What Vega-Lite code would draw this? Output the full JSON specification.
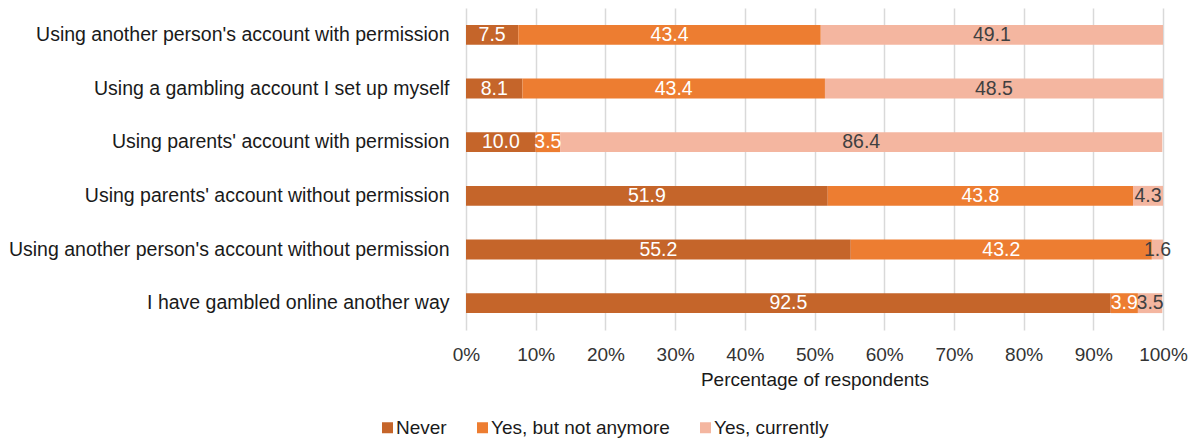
{
  "$schema": "https://vega.github.io/schema/vega-lite/v6.json",
  "autosize": "none",
  "width": 697,
  "height": 322,
  "padding": {"left": 466, "top": 8, "right": 33, "bottom": 108},
  "background": "white",
  "config": {
    "font": "Liberation Sans",
    "view": {"stroke": null}
  },
  "data": {
    "values": [
      {"item": "Using another person's account with permission", "response": "Never", "pct": 7.5},
      {"item": "Using another person's account with permission", "response": "Yes, but not anymore", "pct": 43.4},
      {"item": "Using another person's account with permission", "response": "Yes, currently", "pct": 49.1},
      {"item": "Using a gambling account I set up myself", "response": "Never", "pct": 8.1},
      {"item": "Using a gambling account I set up myself", "response": "Yes, but not anymore", "pct": 43.4},
      {"item": "Using a gambling account I set up myself", "response": "Yes, currently", "pct": 48.5},
      {"item": "Using parents' account with permission", "response": "Never", "pct": 10.0},
      {"item": "Using parents' account with permission", "response": "Yes, but not anymore", "pct": 3.5},
      {"item": "Using parents' account with permission", "response": "Yes, currently", "pct": 86.4},
      {"item": "Using parents' account without permission", "response": "Never", "pct": 51.9},
      {"item": "Using parents' account without permission", "response": "Yes, but not anymore", "pct": 43.8},
      {"item": "Using parents' account without permission", "response": "Yes, currently", "pct": 4.3},
      {"item": "Using another person's account without permission", "response": "Never", "pct": 55.2},
      {"item": "Using another person's account without permission", "response": "Yes, but not anymore", "pct": 43.2},
      {"item": "Using another person's account without permission", "response": "Yes, currently", "pct": 1.6},
      {"item": "I have gambled online another way", "response": "Never", "pct": 92.5},
      {"item": "I have gambled online another way", "response": "Yes, but not anymore", "pct": 3.9},
      {"item": "I have gambled online another way", "response": "Yes, currently", "pct": 3.5}
    ]
  },
  "transform": [
    {"stack": "pct", "groupby": ["item"], "sort": [{"field": "response", "order": "ascending"}], "as": ["x0", "x1"]},
    {"calculate": "(datum.x0 + datum.x1) / 2", "as": "xmid"}
  ],
  "encoding": {
    "y": {
      "field": "item",
      "type": "nominal",
      "sort": null,
      "scale": {"paddingInner": 0.63, "paddingOuter": 0.315},
      "axis": {
        "title": null,
        "domain": false,
        "ticks": false,
        "labelFont": "Liberation Sans",
        "labelFontSize": 19.5,
        "labelColor": "#1a1a1a",
        "labelPadding": 17,
        "labelLimit": 600
      }
    }
  },
  "layer": [
    {
      "mark": {"type": "bar"},
      "encoding": {
        "x": {
          "field": "x0",
          "type": "quantitative",
          "scale": {"domain": [0, 100], "nice": false},
          "axis": {
            "values": [0, 10, 20, 30, 40, 50, 60, 70, 80, 90, 100],
            "labelExpr": "datum.value + '%'",
            "labelFlush": false,
            "labelOverlap": false,
            "title": "Percentage of respondents",
            "titleFont": "Liberation Sans",
            "titleFontSize": 19,
            "titleFontWeight": "normal",
            "titleColor": "#1a1a1a",
            "titlePadding": 6,
            "labelFont": "Liberation Sans",
            "labelFontSize": 19,
            "labelColor": "#333333",
            "labelPadding": 15,
            "domain": false,
            "ticks": false,
            "grid": true,
            "gridColor": "#D9D9D9",
            "gridWidth": 1.5
          }
        },
        "x2": {"field": "x1"},
        "color": {
          "field": "response",
          "type": "nominal",
          "scale": {
            "domain": ["Never", "Yes, but not anymore", "Yes, currently"],
            "range": ["#C5652A", "#ED7D31", "#F4B6A0"]
          },
          "legend": {
            "title": null,
            "orient": "none",
            "direction": "horizontal",
            "legendX": -88,
            "legendY": 410,
            "symbolType": "square",
            "symbolSize": 121,
            "symbolStrokeWidth": 0,
            "labelFont": "Liberation Sans",
            "labelFontSize": 19,
            "labelColor": "#1a1a1a",
            "labelOffset": -1,
            "labelLimit": 400,
            "columnPadding": 26
          }
        }
      }
    },
    {
      "mark": {"type": "text", "fontSize": 19.5, "font": "Liberation Sans", "baseline": "middle"},
      "encoding": {
        "x": {"field": "xmid", "type": "quantitative"},
        "text": {"field": "pct", "type": "quantitative", "format": ".1f"},
        "color": {
          "condition": {"test": "datum.response === 'Yes, currently'", "value": "#404040"},
          "value": "white"
        }
      }
    }
  ]
}
